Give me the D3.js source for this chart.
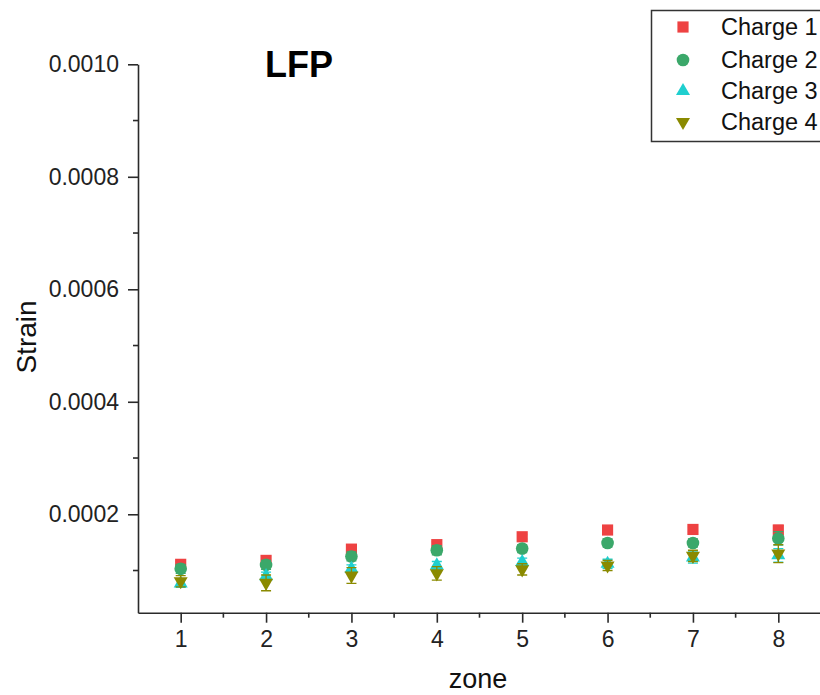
<!DOCTYPE html>
<html>
<head>
<meta charset="utf-8">
<script src="https://cdn.jsdelivr.net/npm/d3@7"></script>
<style>
  body { margin: 0; background: #fff; }
  svg { display: block; font-family: "Liberation Sans", Arial, sans-serif; }
</style>
</head>
<body>
<svg id="chart"></svg>
<script>
// values
const zones = [1, 2, 3, 4, 5, 6, 7, 8];
const seriesNames = ["Charge 1", "Charge 2", "Charge 3", "Charge 4"];
const charge1 = [0.000111, 0.000118, 0.000138, 0.000146, 0.000160, 0.000172, 0.000173, 0.000172];
const charge2 = [0.000103, 0.000110, 0.000125, 0.000136, 0.000139, 0.000149, 0.000149, 0.000157];
const charge3 = [0.000077, 0.000090, 0.000103, 0.000109, 0.000115, 0.000112, 0.000123, 0.000127];
const charge4 = [0.000081, 0.000078, 0.000091, 0.000095, 0.000102, 0.000109, 0.000126, 0.000130];
const err1 = [0.000005, 0.000007, 0.000005, 0.000005, 0.000004, 0.000004, 0.000004, 0.000008];
const err2 = [0.000008, 0.000008, 0.000008, 0.000008, 0.000007, 0.000007, 0.000007, 0.000012];
const err3 = [0.000007, 0.000007, 0.000007, 0.000007, 0.000007, 0.000008, 0.000010, 0.000012];
const err4 = [0.000010, 0.000014, 0.000014, 0.000012, 0.000010, 0.000009, 0.000010, 0.000016];
const yTicks = [0.0002, 0.0004, 0.0006, 0.0008, 0.0010];

const width = 820, height = 695;
const svg = d3.select("#chart").attr("width", width).attr("height", height);

const x = d3.scaleLinear().domain([0.5, 8.5]).range([138, 821]);
const y = d3.scaleLinear().domain([0.000025, 0.001]).range([612.7, 64.3]);

const colors = ["#EE4242", "#3BA86A", "#1FCFCF", "#8A8A00"];
const shapes = [
  d3.symbol().type(d3.symbolSquare).size(125),
  d3.symbol().type(d3.symbolCircle).size(125),
  d3.symbol().type(d3.symbolTriangle).size(85),
  d3.symbol().type(d3.symbolTriangle).size(85)
];
const rot = [0, 0, 0, 180];

const series = [charge1, charge2, charge3, charge4].map((vals, i) => ({
  name: seriesNames[i],
  values: vals.map((v, j) => ({zone: zones[j], v: v, e: [err1, err2, err3, err4][i][j]}))
}));

// axes
const axisColor = "#2a2a2a";
const xAxis = d3.axisBottom(x).tickValues(zones).tickSize(10).tickSizeOuter(0).tickPadding(8);
const gx = svg.append("g").attr("transform", `translate(0,${y.range()[0]})`).call(xAxis);
gx.append("g").selectAll("line")
  .data(d3.range(1.5, 8, 1))
  .join("line")
  .attr("x1", d => x(d)).attr("x2", d => x(d))
  .attr("y1", 0).attr("y2", 5);

const yAxis = d3.axisLeft(y).tickValues(yTicks).tickFormat(d3.format(".4f")).tickSize(10).tickSizeOuter(0).tickPadding(9);
const gy = svg.append("g").attr("transform", `translate(${x.range()[0]},0)`).call(yAxis);
gy.append("g").selectAll("line")
  .data(d3.range(1, 10, 2).map(d => d * 0.0001))
  .join("line")
  .attr("y1", d => y(d)).attr("y2", d => y(d))
  .attr("x1", 0).attr("x2", -5);

[gx, gy].forEach(g => {
  g.select(".domain").attr("stroke", axisColor).attr("stroke-width", 1.6);
  g.selectAll("line").attr("stroke", axisColor).attr("stroke-width", 1.6);
  g.selectAll("text").attr("font-size", 23).attr("fill", "#222").attr("font-family", null);
});

// axis titles
svg.append("text").attr("x", 478).attr("y", 688).attr("text-anchor", "middle")
  .attr("font-size", 27).attr("fill", "#111").text("zone");
svg.append("text").attr("transform", "translate(36,337) rotate(-90)").attr("text-anchor", "middle")
  .attr("font-size", 28).attr("fill", "#111").text("Strain");

svg.append("text").attr("x", 265).attr("y", 77).attr("font-size", 36).attr("font-weight", "bold")
  .attr("fill", "#000").text("LFP");

// data: error bars then markers, series in order
series.forEach((s, i) => {
  const g = svg.append("g");
  g.selectAll("path.err")
    .data(s.values)
    .join("path")
    .attr("class", "err")
    .attr("fill", "none")
    .attr("stroke", colors[i])
    .attr("stroke-width", 1.3)
    .attr("d", d => {
      const cx = x(d.zone), y0 = y(d.v - d.e), y1 = y(d.v + d.e);
      return `M${cx - 5},${y0}H${cx + 5}M${cx},${y0}V${y1}M${cx - 5},${y1}H${cx + 5}`;
    });
  g.selectAll("path.pt")
    .data(s.values)
    .join("path")
    .attr("class", "pt")
    .attr("fill", colors[i])
    .attr("transform", d => `translate(${x(d.zone)},${y(d.v)}) rotate(${rot[i]})`)
    .attr("d", shapes[i]());
});

// legend
const legend = svg.append("g");
legend.append("rect").attr("x", 651.5).attr("y", 10.5).attr("width", 200).attr("height", 131)
  .attr("fill", "#fff").attr("stroke", "#333").attr("stroke-width", 1.5);
const rowY = [27, 60, 91, 122];
seriesNames.forEach((name, i) => {
  legend.append("path")
    .attr("transform", `translate(683,${rowY[i]}) rotate(${rot[i]})`)
    .attr("fill", colors[i])
    .attr("d", shapes[i]());
  legend.append("text").attr("x", 721).attr("y", rowY[i]).attr("dy", "0.36em")
    .attr("font-size", 23.5).attr("fill", "#111").text(name);
});
</script>
</body>
</html>
